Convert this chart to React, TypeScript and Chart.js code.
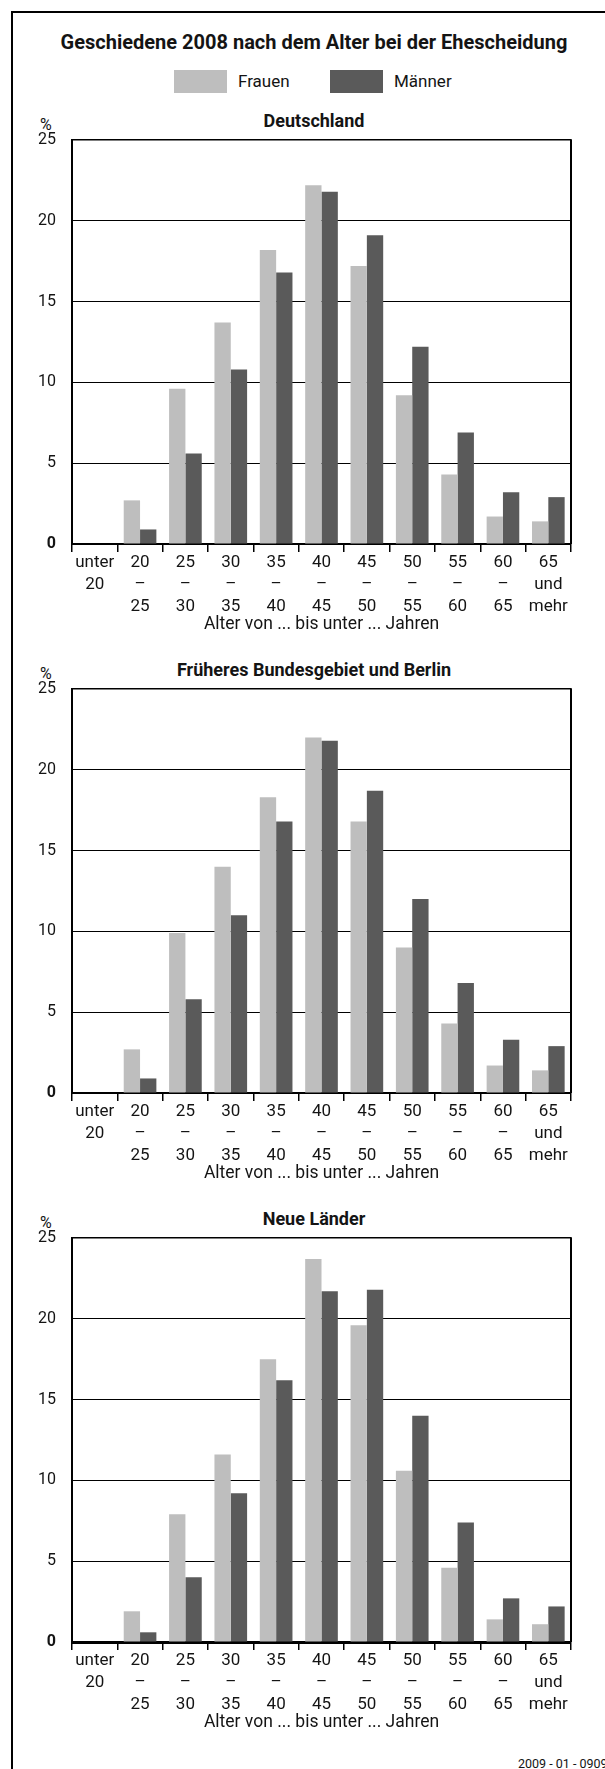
import React, { useEffect, useRef } from "react";
import { Chart, registerables } from "chart.js";

Chart.register(...registerables);

// ---------- data ----------
const categories: string[][] = [
  ["unter", "20"],
  ["20", "–", "25"],
  ["25", "–", "30"],
  ["30", "–", "35"],
  ["35", "–", "40"],
  ["40", "–", "45"],
  ["45", "–", "50"],
  ["50", "–", "55"],
  ["55", "–", "60"],
  ["60", "–", "65"],
  ["65", "und", "mehr"],
];
const seriesNames = ["Frauen", "Männer"];
const yTickValues = [0, 5, 10, 15, 20, 25];

const deutschlandFrauen = [0, 2.7, 9.6, 13.7, 18.2, 22.2, 17.2, 9.2, 4.3, 1.7, 1.4];
const deutschlandMaenner = [0, 0.9, 5.6, 10.8, 16.8, 21.8, 19.1, 12.2, 6.9, 3.2, 2.9];

const frueheresFrauen = [0, 2.7, 9.9, 14.0, 18.3, 22.0, 16.8, 9.0, 4.3, 1.7, 1.4];
const frueheresMaenner = [0, 0.9, 5.8, 11.0, 16.8, 21.8, 18.7, 12.0, 6.8, 3.3, 2.9];

const neueFrauen = [0, 1.9, 7.9, 11.6, 17.5, 23.7, 19.6, 10.6, 4.6, 1.4, 1.1];
const neueMaenner = [0, 0.6, 4.0, 9.2, 16.2, 21.7, 21.8, 14.0, 7.4, 2.7, 2.2];

const mainTitle = "Geschiedene 2008 nach dem Alter bei der Ehescheidung";
const xAxisTitle = "Alter von ... bis unter ... Jahren";
const footnote = "2009 - 01 - 0909";

// ---------- styles ----------
const FONT = "Roboto, 'Liberation Sans', sans-serif";
const TEXT = "#141414";
const COLOR_F = "#bebebe";
const COLOR_M = "#5a5a5a";
const PAD_TOP = 30;
const PLOT_H = 404;
const XAXIS_H = 92;

Chart.defaults.font.family = FONT;

const frameRight = {
  id: "frameRight",
  afterDraw(chart: any) {
    const { ctx, chartArea } = chart;
    ctx.save();
    ctx.strokeStyle = "#000";
    ctx.lineWidth = 2;
    ctx.beginPath();
    ctx.moveTo(chartArea.right, chartArea.top - 0.75);
    ctx.lineTo(chartArea.right, chartArea.bottom);
    ctx.stroke();
    ctx.restore();
  },
};

type PanelProps = {
  top: number;
  title: string;
  frauen: number[];
  maenner: number[];
  baseWidth: number;
};

function Panel({ top, title, frauen, maenner, baseWidth }: PanelProps) {
  const ref = useRef<HTMLCanvasElement | null>(null);

  useEffect(() => {
    if (!ref.current) return;
    const chart = new Chart(ref.current, {
      type: "bar",
      data: {
        labels: categories,
        datasets: [
          {
            label: seriesNames[0],
            data: frauen,
            backgroundColor: COLOR_F,
            borderWidth: 0,
            barPercentage: 1,
            categoryPercentage: 0.72,
          },
          {
            label: seriesNames[1],
            data: maenner,
            backgroundColor: COLOR_M,
            borderWidth: 0,
            barPercentage: 1,
            categoryPercentage: 0.72,
          },
        ],
      },
      options: {
        animation: false,
        responsive: false,
        layout: { padding: { top: PAD_TOP, left: 0, right: 34, bottom: 0 } },
        plugins: {
          legend: { display: false },
          tooltip: { enabled: false },
          title: { display: false },
        },
        scales: {
          x: {
            z: 1,
            grid: {
              offset: true,
              drawOnChartArea: false,
              drawTicks: true,
              tickLength: 8,
              color: "#000",
              lineWidth: 1.5,
            },
            border: { display: true, color: "#000", width: baseWidth },
            ticks: {
              color: TEXT,
              padding: 0,
              maxRotation: 0,
              autoSkip: false,
              font: { size: 17, lineHeight: 1.28 },
            },
            title: {
              display: true,
              text: xAxisTitle,
              color: TEXT,
              font: { size: 17.5, lineHeight: 1.3 },
              padding: { top: 0, bottom: 0 },
            },
            afterFit: (s: any) => {
              s.height = XAXIS_H;
            },
          },
          y: {
            min: 0,
            max: 25,
            afterBuildTicks: (s: any) => {
              s.ticks = yTickValues.map((v) => ({ value: v }));
            },
            ticks: {
              color: TEXT,
              padding: 16,
              font: (c: any) => ({
                size: 16,
                weight: c.tick && c.tick.value === 0 ? "bold" : "normal",
              }),
            },
            grid: {
              color: "#000",
              drawTicks: false,
              lineWidth: (c: any) => (c.tick && c.tick.value === 25 ? 1.6 : 1),
            },
            border: { display: true, color: "#000", width: 2 },
            afterFit: (s: any) => {
              s.width = 72;
            },
          },
        },
      },
      plugins: [frameRight],
    } as any);
    return () => chart.destroy();
  }, [frauen, maenner, baseWidth]);

  const chartTop = top; // chart area top (value 25)
  const canvasH = PAD_TOP + PLOT_H + XAXIS_H;
  return (
    <>
      <div
        style={{
          position: "absolute",
          left: 314,
          top: chartTop - 19,
          transform: "translate(-50%, -50%)",
          fontFamily: FONT,
          fontWeight: "bold",
          fontSize: 18,
          lineHeight: 1,
          whiteSpace: "nowrap",
          color: TEXT,
        }}
      >
        {title}
      </div>
      <div
        style={{
          position: "absolute",
          left: 40,
          top: chartTop - 15,
          transform: "translateY(-50%)",
          fontFamily: FONT,
          fontSize: 16,
          lineHeight: 1,
          color: TEXT,
        }}
      >
        %
      </div>
      <canvas
        ref={ref}
        width={605}
        height={canvasH}
        style={{
          position: "absolute",
          left: 0,
          top: chartTop - PAD_TOP,
          width: 605,
          height: canvasH,
          display: "block",
        }}
      />
    </>
  );
}

export default function App() {
  const panelTops = [140, 689, 1238];
  return (
    <div
      style={{
        position: "absolute",
        left: 0,
        top: 0,
        width: 605,
        height: 1769,
        overflow: "hidden",
        background: "#fff",
        fontFamily: FONT,
        color: TEXT,
      }}
    >
      {/* outer frame */}
      <div style={{ position: "absolute", left: 11, top: 11, width: 594, height: 1.5, background: "#000" }} />
      <div style={{ position: "absolute", left: 11, top: 11, width: 1.5, height: 1758, background: "#000" }} />

      {/* main title */}
      <div
        style={{
          position: "absolute",
          left: 314,
          top: 42,
          transform: "translate(-50%, -50%)",
          fontWeight: "bold",
          fontSize: 20,
          lineHeight: 1,
          whiteSpace: "nowrap",
        }}
      >
        {mainTitle}
      </div>

      {/* legend */}
      <div style={{ position: "absolute", left: 174, top: 70, width: 53, height: 23, background: COLOR_F }} />
      <div
        style={{ position: "absolute", left: 238, top: 81, transform: "translateY(-50%)", fontSize: 17, lineHeight: 1 }}
      >
        {seriesNames[0]}
      </div>
      <div style={{ position: "absolute", left: 330, top: 70, width: 53, height: 23, background: COLOR_M }} />
      <div
        style={{ position: "absolute", left: 394, top: 81, transform: "translateY(-50%)", fontSize: 17, lineHeight: 1 }}
      >
        {seriesNames[1]}
      </div>

      <Panel top={panelTops[0]} title="Deutschland" frauen={deutschlandFrauen} maenner={deutschlandMaenner} baseWidth={2} />
      <Panel
        top={panelTops[1]}
        title="Früheres Bundesgebiet und Berlin"
        frauen={frueheresFrauen}
        maenner={frueheresMaenner}
        baseWidth={2}
      />
      <Panel top={panelTops[2]} title="Neue Länder" frauen={neueFrauen} maenner={neueMaenner} baseWidth={3} />

      {/* footnote */}
      <div
        style={{
          position: "absolute",
          left: 518,
          top: 1764,
          transform: "translateY(-50%)",
          fontSize: 12.5,
          lineHeight: 1,
          whiteSpace: "nowrap",
        }}
      >
        {footnote}
      </div>
    </div>
  );
}
